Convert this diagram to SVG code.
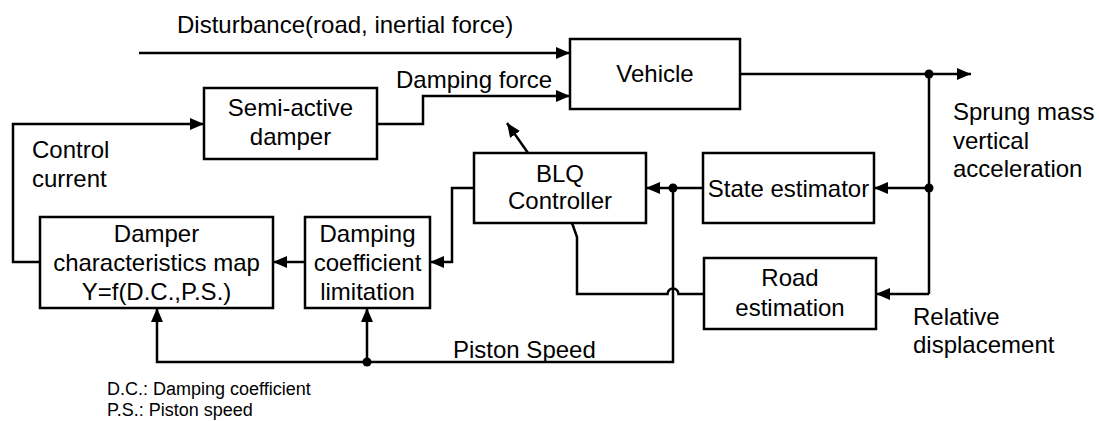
<svg xmlns="http://www.w3.org/2000/svg" width="1099" height="421" viewBox="0 0 1099 421">
<style>
.box{fill:#fff;stroke:#000;stroke-width:2.5}
.ln{fill:none;stroke:#000;stroke-width:2.5}
.t{font-family:"Liberation Sans",Arial,sans-serif;font-size:24px;fill:#000}
.c{text-anchor:middle}
.s{font-family:"Liberation Sans",Arial,sans-serif;font-size:18px;fill:#000}
.dot{fill:#000}
</style>
<defs>
<marker id="ah" markerUnits="userSpaceOnUse" markerWidth="14" markerHeight="12" refX="14" refY="6" orient="auto" viewBox="0 0 14 12">
<path d="M0,0 L14,6 L0,12 z" fill="#000"/>
</marker>
</defs>
<rect width="1099" height="421" fill="#fff"/>
<g id="connectors">
<path class="ln" d="M139,53 H570" marker-end="url(#ah)"/>
<path class="ln" d="M377,124 H423 V96 H570" marker-end="url(#ah)"/>
<path class="ln" d="M740,74 H971" marker-end="url(#ah)"/>
<path class="ln" d="M929,74 V294"/>
<path class="ln" d="M929,188 H874" marker-end="url(#ah)"/>
<path class="ln" d="M929,294 H876" marker-end="url(#ah)"/>
<path class="ln" d="M703,188 H646" marker-end="url(#ah)"/>
<path class="ln" d="M673,188 V362 H157 V308" marker-end="url(#ah)"/>
<path class="ln" d="M367,362 V308" marker-end="url(#ah)"/>
<path class="ln" d="M474,188 H452 V262 H430" marker-end="url(#ah)"/>
<path class="ln" d="M305,262 H273" marker-end="url(#ah)"/>
<path class="ln" d="M40,262 H13 V124 H204" marker-end="url(#ah)"/>
<path class="ln" d="M704,294 H678.5 A5.5,5.5 0 0 0 667.5,294 H577 V237 L572,223"/>
<path class="ln" d="M528,153 L507,123" marker-end="url(#ah)"/>
<circle class="dot" cx="929" cy="74" r="4.5"/>
<circle class="dot" cx="929" cy="188" r="4.5"/>
<circle class="dot" cx="673" cy="188" r="4.5"/>
<circle class="dot" cx="367" cy="362" r="4.5"/>
</g>
<g id="vehicle">
<rect class="box" x="570" y="39" width="170" height="70"/>
<text class="t c" x="655" y="82">Vehicle</text>
</g>
<g id="semi-active-damper">
<rect class="box" x="204" y="88" width="173" height="71"/>
<text class="t c" x="290.5" y="116">Semi-active</text>
<text class="t c" x="290.5" y="145">damper</text>
</g>
<g id="blq-controller">
<rect class="box" x="474" y="153" width="172" height="70"/>
<text class="t c" x="560" y="182">BLQ</text>
<text class="t c" x="560" y="209">Controller</text>
</g>
<g id="state-estimator">
<rect class="box" x="703" y="153" width="171" height="70"/>
<text class="t c" x="788.5" y="197">State estimator</text>
</g>
<g id="road-estimation">
<rect class="box" x="704" y="258" width="172" height="71"/>
<text class="t c" x="790" y="286">Road</text>
<text class="t c" x="790" y="316">estimation</text>
</g>
<g id="damper-map">
<rect class="box" x="40" y="217" width="233" height="91"/>
<text class="t c" x="156.5" y="242">Damper</text>
<text class="t c" x="156.5" y="271">characteristics map</text>
<text class="t c" x="156.5" y="300">Y=f(D.C.,P.S.)</text>
</g>
<g id="damping-limitation">
<rect class="box" x="305" y="217" width="125" height="91"/>
<text class="t c" x="367.5" y="242">Damping</text>
<text class="t c" x="367.5" y="271">coefficient</text>
<text class="t c" x="367.5" y="300">limitation</text>
</g>
<g id="labels">
<text class="t" x="177" y="33">Disturbance(road, inertial force)</text>
<text class="t" x="396" y="88">Damping force</text>
<text class="t" x="32" y="158">Control</text>
<text class="t" x="32" y="187">current</text>
<text class="t" x="953" y="120">Sprung mass</text>
<text class="t" x="953" y="149">vertical</text>
<text class="t" x="953" y="177">acceleration</text>
<text class="t" x="913" y="325">Relative</text>
<text class="t" x="913" y="353">displacement</text>
<text class="t" x="453" y="358">Piston Speed</text>
<text class="s" x="107" y="395">D.C.: Damping coefficient</text>
<text class="s" x="107" y="416">P.S.: Piston speed</text>
</g>
</svg>
